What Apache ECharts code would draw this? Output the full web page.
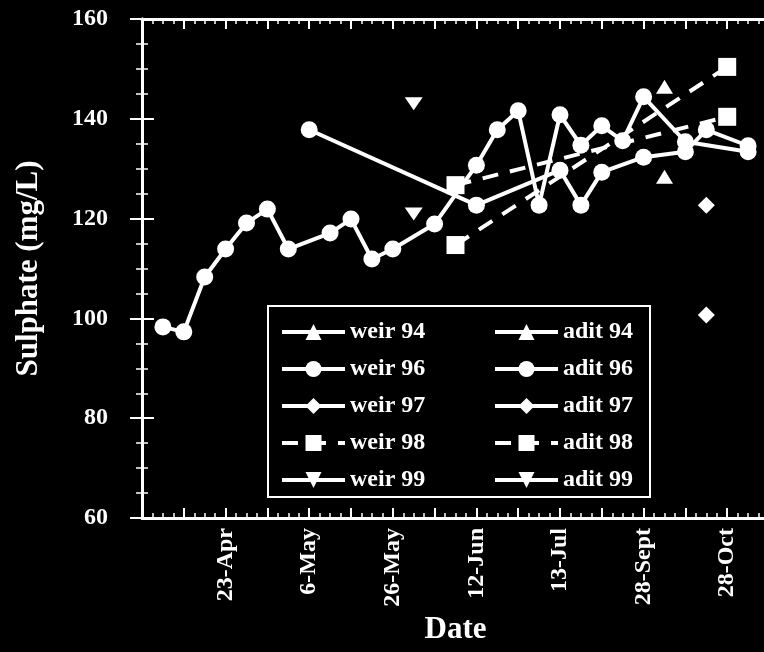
<!DOCTYPE html>
<html>
<head>
<meta charset="utf-8">
<script src="https://cdn.jsdelivr.net/npm/echarts@6/dist/echarts.min.js"></script>
<style>
  html, body { margin: 0; padding: 0; background: #000; overflow: hidden; }
  #chart { width: 790px; height: 652px; }
</style>
</head>
<body>
<div id="chart"></div>
<script>
// date axis: position (sampling step) -> label
const xLabelPos = [2, 4, 6, 8, 10, 12, 14];
const xLabels = ['23-Apr', '6-May', '26-May', '12-Jun', '13-Jul', '28-Sept', '28-Oct'];

// sulphate (mg/L), [step, value]
const weir94 = [[12.5, 146.4]];
const adit94 = [[12.5, 128.4]];

const weir96 = [
  [0.5, 98.3], [1, 97.3], [1.5, 108.3], [2, 113.9], [2.5, 119.1], [3, 121.9],
  [3.5, 113.9], [4.5, 117.1], [5, 119.9], [5.5, 111.9], [6, 113.9], [7, 118.9],
  [8, 130.7], [8.5, 137.8], [9, 141.6], [9.5, 122.7], [10, 140.8], [10.5, 134.7],
  [11, 138.6], [11.5, 135.6], [12, 144.4], [13, 135.4], [14.5, 133.4]
];
const adit96 = [
  [4, 137.8], [8, 122.7], [10, 129.7], [10.5, 122.7], [11, 129.3],
  [12, 132.3], [13, 133.4], [13.5, 137.8], [14.5, 134.6]
];

const weir97 = [[13.5, 122.7]];
const adit97 = [[13.5, 100.7]];

const weir98 = [[7.5, 114.7], [14, 150.4]];
const adit98 = [[7.5, 126.7], [14, 140.4]];

const weir99 = [[6.5, 143.0]];
const adit99 = [[6.5, 120.9]];

const FONT = 'Liberation Serif';
const downTri = 'path://M0,0 L10,0 L5,10 Z';

function line(name, data, symbol, size, dashed) {
  return {
    name: name,
    type: 'line',
    data: data,
    symbol: symbol,
    symbolSize: size,
    color: '#fff',
    itemStyle: { color: '#fff' },
    lineStyle: { color: '#fff', width: 4, type: dashed ? [16, 12] : 'solid' },
    emphasis: { disabled: true }
  };
}

const chart = echarts.init(document.getElementById('chart'));

const labelStyle = { color: '#fff', fontFamily: FONT, fontWeight: 'bold', fontSize: 24 };
const nameStyle = { color: '#fff', fontFamily: FONT, fontWeight: 'bold', fontSize: 31 };
const axisLine = { show: true, lineStyle: { color: '#fff', width: 3 } };

function xAx(pos, showLabel) {
  return {
    type: 'value', position: pos, min: 0, max: 15, interval: 1,
    axisLine: axisLine,
    axisTick: { inside: true, length: 10, lineStyle: { color: '#fff', width: 2 } },
    minorTick: { show: true, splitNumber: 4, length: 5, lineStyle: { color: '#fff', width: 1.5 } },
    splitLine: { show: false },
    axisLabel: {
      show: showLabel, rotate: 90, margin: 10, ...labelStyle,
      formatter: function (v) {
        const i = xLabelPos.indexOf(Math.round(v));
        return i >= 0 ? xLabels[i] : '';
      }
    }
  };
}

function yAx(pos, showLabel) {
  return {
    type: 'value', position: pos, min: 60, max: 160, interval: 20,
    axisLine: axisLine,
    axisTick: { inside: true, length: 12, lineStyle: { color: '#fff', width: 2 } },
    minorTick: { show: true, splitNumber: 4, length: 6, lineStyle: { color: '#fff', width: 1.5 } },
    splitLine: { show: false },
    axisLabel: { show: showLabel, margin: 34, ...labelStyle }
  };
}

const bottomAxis = xAx('bottom', true);
bottomAxis.name = 'Date';
bottomAxis.nameLocation = 'middle';
bottomAxis.nameGap = 92;
bottomAxis.nameTextStyle = nameStyle;

const leftAxis = yAx('left', true);
leftAxis.name = 'Sulphate (mg/L)';
leftAxis.nameLocation = 'middle';
leftAxis.nameGap = 98;
leftAxis.nameTextStyle = nameStyle;

const legendBase = {
  orient: 'vertical',
  top: 320,
  padding: 0,
  itemWidth: 63,
  itemHeight: 20,
  itemGap: 13,
  selectedMode: false,
  z: 10,
  lineStyle: { width: 4 },
  textStyle: { color: '#fff', fontFamily: FONT, fontWeight: 'bold', fontSize: 24 }
};

chart.setOption({
  backgroundColor: '#000',
  animation: false,
  grid: { left: 142, top: 19, right: 21, bottom: 134 },
  xAxis: [bottomAxis, xAx('top', false)],
  yAxis: [leftAxis, yAx('right', false)],
  legend: [
    Object.assign({}, legendBase, { left: 280, data: ['weir 94', 'weir 96', 'weir 97', 'weir 98', 'weir 99'] }),
    Object.assign({}, legendBase, { left: 493, data: ['adit 94', 'adit 96', 'adit 97', 'adit 98', 'adit 99'] })
  ],
  graphic: [{
    type: 'rect',
    shape: { x: 268, y: 306, width: 382, height: 191 },
    style: { fill: 'none', stroke: '#fff', lineWidth: 2 },
    z: 1
  }],
  series: [
    line('weir 94', weir94, 'triangle', [17, 14], false),
    line('weir 96', weir96, 'circle', 17, false),
    line('weir 97', weir97, 'diamond', 17, false),
    line('weir 98', weir98, 'rect', 18, true),
    line('weir 99', weir99, downTri, [18, 13], false),
    line('adit 94', adit94, 'triangle', [17, 14], false),
    line('adit 96', adit96, 'circle', 17, false),
    line('adit 97', adit97, 'diamond', 17, false),
    line('adit 98', adit98, 'rect', 18, true),
    line('adit 99', adit99, downTri, [18, 13], false)
  ]
});
</script>
</body>
</html>
